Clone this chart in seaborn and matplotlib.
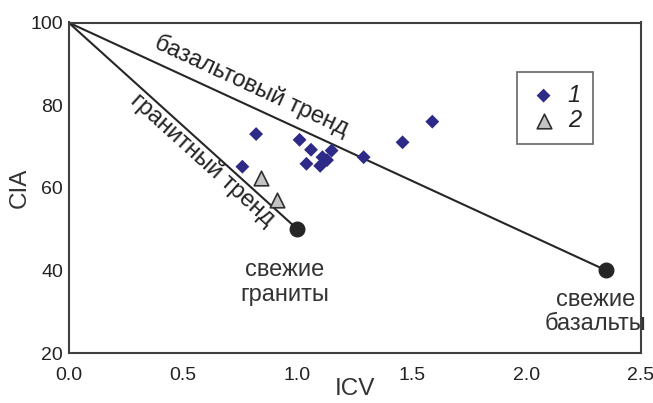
import numpy as np
import pandas as pd
import matplotlib
matplotlib.use('Agg')
import matplotlib.pyplot as plt
import seaborn as sns

# Group 1 (diamonds) and group 2 (triangles)
icv_1 = [0.76, 0.82, 1.01, 1.04, 1.06, 1.10, 1.11, 1.13, 1.15, 1.29, 1.46, 1.59]
cia_1 = [65.1, 73.0, 71.6, 65.8, 69.2, 65.3, 67.4, 66.7, 69.0, 67.4, 71.0, 76.0]
icv_2 = [0.84, 0.91]
cia_2 = [62.3, 57.1]

# End members and trend lines starting at (0, 100)
origin = (0.0, 100.0)
granite = (1.0, 50.0)
basalt = (2.35, 40.0)

x_ticks = [0.0, 0.5, 1.0, 1.5, 2.0, 2.5]
y_ticks = [20, 40, 60, 80, 100]

df1 = pd.DataFrame({'ICV': icv_1, 'CIA': cia_1})
df2 = pd.DataFrame({'ICV': icv_2, 'CIA': cia_2})

sns.set_style('white')
plt.rcParams['font.family'] = ['Liberation Sans', 'DejaVu Sans']

fig = plt.figure(figsize=(6.53, 4.03), dpi=100)
ax = fig.add_axes([68.5 / 653, 1 - 353 / 403, 572 / 653, 330.5 / 403])

dark = '#262626'
# trend lines
ax.plot([origin[0], granite[0]], [origin[1], granite[1]], color=dark, lw=1.5, zorder=2)
ax.plot([origin[0], basalt[0]], [origin[1], basalt[1]], color=dark, lw=1.5, zorder=2)
ax.scatter([granite[0], basalt[0]], [granite[1], basalt[1]], s=110, color=dark, zorder=4)

sns.scatterplot(data=df1, x='ICV', y='CIA', marker='D', s=50, color='#2e2a88',
                edgecolor='none', label='1', ax=ax, zorder=3)
sns.scatterplot(data=df2, x='ICV', y='CIA', marker='^', s=110, color='#c4c4c4',
                edgecolor='#303030', linewidth=1.2, label='2', ax=ax, zorder=3)

ax.set_xlim(0, 2.5)
ax.set_ylim(20, 100)
ax.set_xticks(x_ticks)
ax.set_yticks(y_ticks)
ax.set_xticklabels([f'{t:.1f}' for t in x_ticks])
ax.tick_params(direction='in', length=5, width=1.5, color='#404040',
               labelsize=14, labelcolor='#222222')
ax.tick_params(axis='x', pad=10)
ax.tick_params(axis='y', pad=4)
for s in ax.spines.values():
    s.set_color('#404040')
    s.set_linewidth(1.5)
ax.set_xlabel('ICV', fontsize=17.5, color='#333333', labelpad=-4)
ax.set_ylabel('CIA', fontsize=17.5, color='#333333', labelpad=0)

# rotated trend labels, angles from screen coordinates
fig.canvas.draw()
def screen_angle(p0, p1):
    a = ax.transData.transform(p0)
    b = ax.transData.transform(p1)
    return np.degrees(np.arctan2(b[1] - a[1], b[0] - a[0]))

ang_b = screen_angle(origin, basalt)
ang_g = screen_angle(origin, granite)
ax.text(0.798, 84.65, 'базальтовый тренд', rotation=ang_b, rotation_mode='anchor',
        ha='center', va='center', fontsize=17, color='#222222')
ax.text(0.586, 66.8, 'гранитный тренд', rotation=ang_g, rotation_mode='anchor',
        ha='center', va='center', fontsize=17, color='#222222')

ax.text(0.945, 37.0, 'свежие\nграниты', ha='center', va='center', fontsize=17,
        color='#333333', linespacing=1.15)
ax.text(2.305, 29.9, 'свежие\nбазальты', ha='center', va='center', fontsize=17,
        color='#333333', linespacing=1.15)

leg = ax.legend(loc='upper left', bbox_to_anchor=(517 / 653, 1 - 72 / 403),
                bbox_transform=fig.transFigure, frameon=True, fancybox=False,
                edgecolor='#404040', fontsize=17, handletextpad=0.4,
                borderpad=0.5, labelspacing=0.1, handlelength=1.25,
                borderaxespad=0)
leg.get_frame().set_linewidth(1.2)
for t in leg.get_texts():
    t.set_style('italic')
    t.set_color('#222222')

fig.savefig('out.png', dpi=100)
